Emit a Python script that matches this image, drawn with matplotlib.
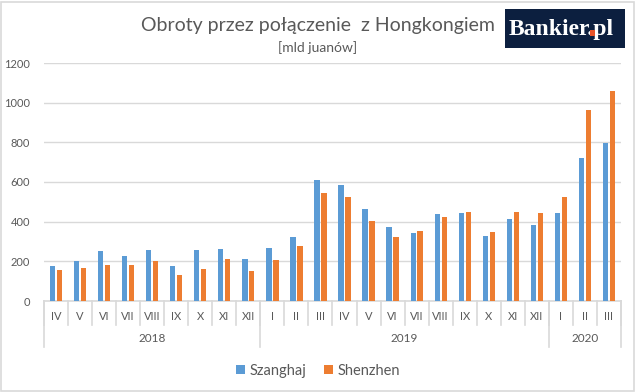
import matplotlib.pyplot as plt
import matplotlib.transforms as mtransforms
from matplotlib.patches import Rectangle
import numpy as np

months = ['IV', 'V', 'VI', 'VII', 'VIII', 'IX', 'X', 'XI', 'XII',
          'I', 'II', 'III', 'IV', 'V', 'VI', 'VII', 'VIII', 'IX', 'X', 'XI', 'XII',
          'I', 'II', 'III']
years = ['2018', '2019', '2020']
year_counts = [9, 12, 3]
szanghaj = [175, 200, 251, 226, 256, 175, 256, 261, 211,
            266, 322, 610, 585, 463, 372, 342, 438, 443, 327, 413, 382,
            443, 721, 797]
shenzhen = [155, 165, 180, 180, 200, 130, 160, 211, 150,
            206, 276, 544, 524, 403, 322, 352, 423, 448, 347, 448, 443,
            524, 964, 1060]

BLUE = '#5B9BD5'
ORANGE = '#ED7D31'
GRAY = '#595959'
GRID = '#D9D9D9'
FONT = 'Lato'

W, H = 636, 392
fig = plt.figure(figsize=(W / 100, H / 100), dpi=100)
fig.patch.set_facecolor('white')
fig.patches.append(Rectangle((1 / W, 1 / H), 1 - 3 / W, 1 - 3 / H, transform=fig.transFigure,
                             fill=False, edgecolor=GRID, linewidth=1.2))

ax = fig.add_axes([44 / W, (H - 301) / H, (621 - 44) / W, (301 - 63) / H])
x = np.arange(len(months))
ax.bar(x - 0.145, szanghaj, width=0.22, color=BLUE, label='Szanghaj', zorder=3)
ax.bar(x + 0.145, shenzhen, width=0.22, color=ORANGE, label='Shenzhen', zorder=3)

ax.set_xlim(-0.5, len(months) - 0.5)
ax.set_ylim(0, 1200)
ax.set_yticks(range(0, 1201, 200))
ax.yaxis.grid(True, color=GRID, linewidth=1, zorder=0)
ax.tick_params(axis='y', length=0, pad=10, labelsize=8, labelcolor=GRAY)
ax.set_xticks([])
for s in ['top', 'right', 'left']:
    ax.spines[s].set_visible(False)
ax.spines['bottom'].set_color(GRID)
ax.spines['bottom'].set_linewidth(1.2)
for lab in ax.get_yticklabels():
    lab.set_fontfamily(FONT)

# two-level category axis
tr = mtransforms.blended_transform_factory(ax.transData, ax.transAxes)
ah = 301 - 63
for k in range(len(months) + 1):
    ax.plot([k - 0.5, k - 0.5], [0, -24 / ah], transform=tr, color=GRID, lw=1.2, clip_on=False)
for i, m in enumerate(months):
    ax.text(i, -15 / ah, m, transform=tr, ha='center', va='center', fontsize=8,
            color=GRAY, family=FONT)
start = 0
bounds = [-0.5]
for yr, n in zip(years, year_counts):
    ax.text(start + (n - 1) / 2, -38 / ah, yr, transform=tr, ha='center', va='center',
            fontsize=8.5, color=GRAY, family=FONT)
    start += n
    bounds.append(start - 0.5)
for b in bounds:
    ax.plot([b, b], [0, -46 / ah], transform=tr, color=GRID, lw=1.2, clip_on=False)

leg = fig.legend(loc='center', bbox_to_anchor=(318 / W, (H - 371) / H), ncol=2, frameon=False,
                 handlelength=0.6, handleheight=0.6, handletextpad=0.3, columnspacing=1.2,
                 prop={'family': FONT, 'size': 10.5})
for t in leg.get_texts():
    t.set_color(GRAY)

fig.text(318 / W, (H - 26) / H, 'Obroty przez połączenie  z Hongkongiem', ha='center', va='center',
         fontsize=14, color=GRAY, family=FONT)
fig.text(318 / W, (H - 48) / H, '[mld juanów]', ha='center', va='center',
         fontsize=10, color=GRAY, family=FONT)

# logo; the dot is covered by a small orange square
fig.patches.append(Rectangle((505 / W, (H - 48) / H), 120 / W, 39 / H, transform=fig.transFigure,
                             facecolor='#0C1F3F', edgecolor='none'))
logo_font = dict(fontsize=17, family='Liberation Serif', fontweight='bold', va='baseline', ha='left')
lx, base = 509, H - 35
fig.text(lx / W, base / H, 'Bankier.pl', color='white', **logo_font)
fig.canvas.draw()
r = fig.canvas.get_renderer()
m1 = fig.text(lx / W, base / H, 'Bankier', alpha=0, **logo_font).get_window_extent(r)
m2 = fig.text(lx / W, base / H, 'Bankier.', alpha=0, **logo_font).get_window_extent(r)
cx = (m1.x1 + m2.x1) / 2
fig.patches.append(Rectangle(((cx - 2.6) / W, (base - 0.5) / H), 5.2 / W, 5.2 / H,
                             transform=fig.transFigure, facecolor='#E8542A', edgecolor='none',
                             zorder=10))

fig.savefig('out.png', dpi=100)
